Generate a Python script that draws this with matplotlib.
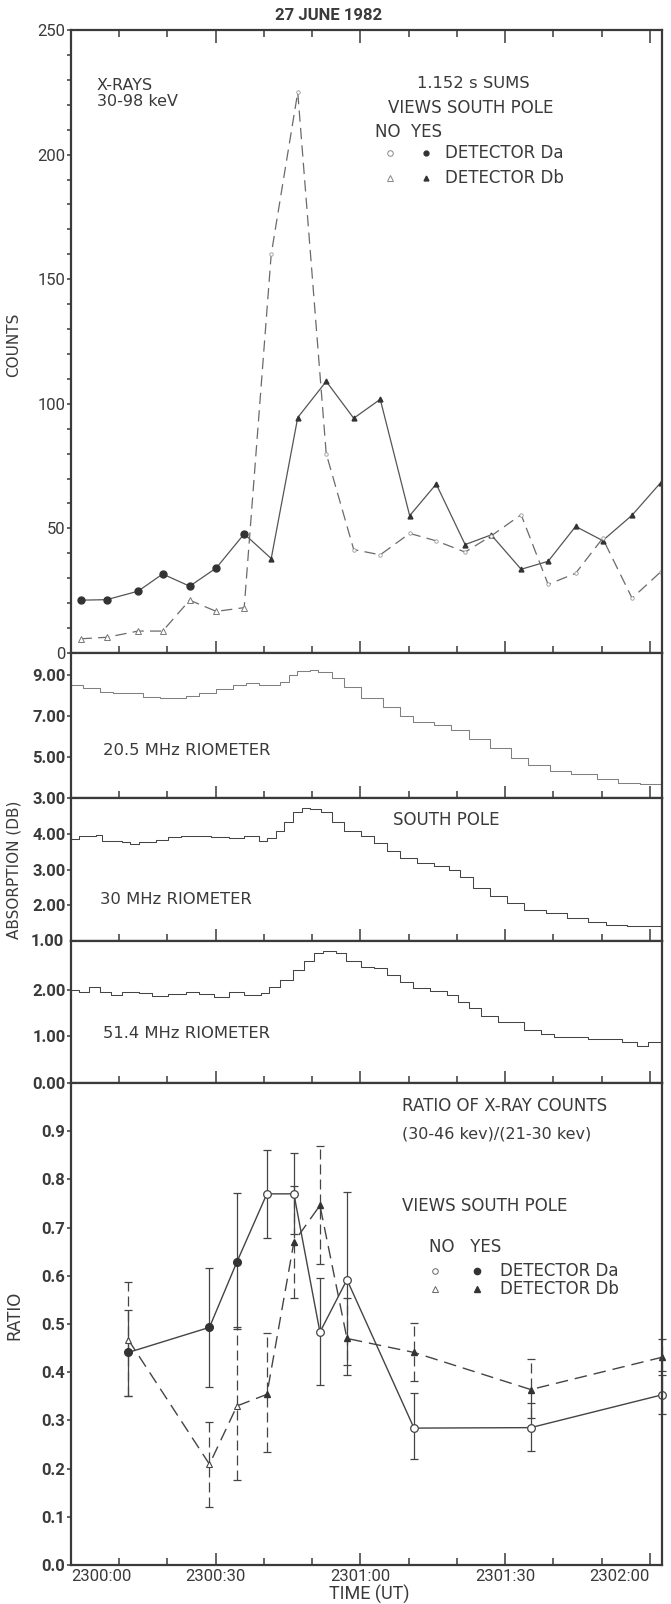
# -*- coding: utf-8 -*-

import numpy as np
import matplotlib.pyplot as plt
from matplotlib.ticker import MultipleLocator, FixedLocator

# x-ray counts, 1.152 s sums (seconds after 2300:00 UT)
count_t = [2.0, 7.4, 13.9, 19.0, 24.6, 30.1, 35.9, 41.5, 47.0, 52.9, 58.6,
           64.1, 70.2, 75.7, 81.7, 87.1, 93.3, 98.9, 104.6, 110.2, 116.3, 122.2]
count_yes = [21.2, 21.4, 24.8, 31.7, 26.8, 34.1, 47.8, 37.9, 94.5, 109.0, 94.2,
             101.8, 55.1, 67.8, 43.5, 47.4, 33.6, 36.8, 50.8, 45.1, 55.3, 68.3]
count_no = [5.7, 6.3, 8.8, 8.8, 21.2, 16.7, 18.2, 160.0, 225.0, 80.0, 41.5,
            39.4, 48.0, 45.0, 40.5, 47.0, 55.5, 27.5, 32.0, 46.0, 22.0, 32.5]
n_da_first = 7   # first points come from Da, then Db views the pole

# riometers
rio20_t = [0.3, 2.5, 6.0, 8.7, 12.3, 14.9, 18.5, 21.1, 23.8, 26.5, 30.0, 33.6,
           36.2, 38.9, 42.4, 43.3, 45.1, 46.9, 49.5, 51.3, 54.0, 56.6, 60.2,
           64.6, 68.2, 70.8, 75.3, 78.8, 82.4, 86.8, 91.3, 94.8, 99.2, 103.7,
           109.0, 113.4, 117.9, 122.3]
rio20_db = [8.51, 8.35, 8.19, 8.10, 8.10, 7.94, 7.86, 7.86, 7.98, 8.10, 8.30,
            8.51, 8.63, 8.51, 8.51, 8.67, 9.00, 9.20, 9.24, 9.16, 8.84, 8.43,
            7.86, 7.46, 7.00, 6.72, 6.56, 6.32, 5.86, 5.42, 4.93, 4.61, 4.33,
            4.15, 3.91, 3.75, 3.68, 3.68]

rio30_t = [0.3, 1.6, 5.1, 6.5, 10.5, 12.3, 14.0, 17.6, 20.2, 22.9, 25.6, 29.1,
           32.7, 35.8, 38.9, 40.7, 42.4, 44.2, 46.0, 47.8, 49.5, 51.8, 54.0,
           56.6, 60.2, 62.8, 65.5, 68.2, 71.7, 75.3, 78.4, 80.6, 83.3, 86.8,
           90.4, 93.9, 98.4, 102.8, 107.2, 110.8, 115.2, 119.7, 122.3]
rio30_db = [3.85, 3.94, 3.97, 3.81, 3.77, 3.72, 3.77, 3.83, 3.91, 3.94, 3.93,
            3.91, 3.87, 3.93, 3.81, 3.88, 4.07, 4.34, 4.62, 4.73, 4.69, 4.62,
            4.32, 4.09, 3.93, 3.74, 3.51, 3.32, 3.18, 3.11, 3.00, 2.79, 2.48,
            2.27, 2.06, 1.86, 1.77, 1.65, 1.53, 1.46, 1.43, 1.41, 1.37]

rio51_t = [0.3, 1.6, 3.8, 6.0, 8.3, 10.5, 14.0, 16.7, 20.2, 23.8, 26.5, 29.6,
           32.7, 35.8, 39.3, 41.1, 43.3, 46.0, 48.2, 50.4, 52.2, 54.9, 57.1,
           60.2, 62.8, 65.5, 68.2, 70.8, 74.4, 77.9, 80.2, 82.4, 85.0, 88.6,
           91.3, 93.9, 97.5, 100.1, 103.7, 107.2, 110.8, 114.3, 117.4, 119.7,
           122.3]
rio51_db = [2.00, 1.96, 2.06, 1.96, 1.89, 1.96, 1.94, 1.87, 1.91, 1.96, 1.91,
            1.84, 1.96, 1.89, 1.94, 2.07, 2.21, 2.43, 2.61, 2.79, 2.84, 2.80,
            2.61, 2.50, 2.46, 2.32, 2.18, 2.05, 1.98, 1.89, 1.75, 1.61, 1.43,
            1.32, 1.30, 1.14, 1.06, 0.99, 0.99, 0.94, 0.94, 0.89, 0.80, 0.89,
            0.87]

# hardness ratio (30-46 keV)/(21-30 keV)
ratio_t = [11.9, 28.7, 34.4, 40.6, 46.2, 51.6, 57.2, 71.1, 95.3, 122.5]
ratio_da = [0.441, 0.493, 0.629, 0.770, 0.770, 0.483, 0.592, 0.284, 0.285, 0.353]
ratio_da_lo = [0.351, 0.370, 0.490, 0.678, 0.686, 0.374, 0.414, 0.219, 0.236, 0.314]
ratio_da_hi = [0.530, 0.616, 0.771, 0.862, 0.855, 0.595, 0.774, 0.356, 0.336, 0.395]
da_yes = [True, True, True, False, False, False, False, False, False, False]
ratio_db = [0.467, 0.209, 0.330, 0.354, 0.670, 0.746, 0.470, 0.441, 0.364, 0.431]
ratio_db_lo = [0.350, 0.121, 0.176, 0.234, 0.554, 0.625, 0.394, 0.382, 0.306, 0.403]
ratio_db_hi = [0.587, 0.296, 0.493, 0.481, 0.786, 0.870, 0.554, 0.503, 0.428, 0.469]
db_yes = [False, False, False, True, True, True, True, True, True, True]

time_ticks = [0, 30, 60, 90, 120]
time_labels = ['2300:00', '2300:30', '2301:00', '2301:30', '2302:00']

ink = '#3a3a3a'
narrow = ['Liberation Sans Narrow', 'Roboto', 'DejaVu Sans']
plain = ['DejaVu Sans']

W, H = 671, 1604
fig = plt.figure(figsize=(W / 100, H / 100), dpi=100)


def box(top, bottom):
    # axes rectangle from pixel rows of the scan
    return [71 / W, 1 - bottom / H, 591 / W, (bottom - top) / H]


def xf(px):
    # pixel column -> axes fraction
    return (px - 71) / 591


ax1 = fig.add_axes(box(30, 653))
ax2 = fig.add_axes(box(653, 798))
ax3 = fig.add_axes(box(798, 941))
ax4 = fig.add_axes(box(941, 1083))
ax5 = fig.add_axes(box(1083, 1565))
axes = [ax1, ax2, ax3, ax4, ax5]

for ax in axes:
    ax.set_xlim(0, 122.5)
    ax.xaxis.set_major_locator(FixedLocator(time_ticks))
    ax.xaxis.set_minor_locator(MultipleLocator(10))
    ax.tick_params(axis='x', which='major', direction='in', length=9, width=1.1,
                   color=ink, top=(ax is ax1), bottom=True, labelbottom=(ax is ax5))
    ax.tick_params(axis='x', which='minor', direction='in', length=5, width=1.1,
                   color=ink, top=(ax is ax1), bottom=True)
    ax.tick_params(axis='y', which='both', direction='out', length=3, width=1.1,
                   color=ink, labelcolor=ink, pad=1)
    for s in ax.spines.values():
        s.set_linewidth(1.6)
        s.set_color(ink)

# --- x-ray counts
t = np.array(count_t)
ax1.plot(t, count_yes, color='#555555', lw=0.9)
ax1.plot(t, count_no, color='#6a6a6a', lw=0.9, ls=(0, (9, 5)))
ax1.plot(t[:n_da_first], count_yes[:n_da_first], 'o', ms=5, color='#333333')
ax1.plot(t[n_da_first:], count_yes[n_da_first:], '^', ms=3.5, color='#333333')
ax1.plot(t[:n_da_first], count_no[:n_da_first], '^', ms=4, mfc='white', mec='#777777', mew=0.7)
ax1.plot(t[n_da_first:], count_no[n_da_first:], 'o', ms=2.5, mfc='white', mec='#999999', mew=0.6)
ax1.set_ylim(0, 250)
ax1.yaxis.set_major_locator(MultipleLocator(50))
ax1.yaxis.set_minor_locator(MultipleLocator(10))
for lb in ax1.get_yticklabels():
    lb.set_family(narrow)
    lb.set_fontsize(12)

y1 = lambda px: 1 - (px - 30) / 623
ax1.text(xf(97), y1(86), 'X-RAYS', transform=ax1.transAxes,
         family=plain, fontsize=11.5, color=ink, va='center')
ax1.text(xf(97), y1(102), '30-98 keV', transform=ax1.transAxes,
         family=plain, fontsize=11.5, color=ink, va='center')
ax1.text(xf(417), y1(83), '1.152 s SUMS', transform=ax1.transAxes,
         family=plain, fontsize=11.8, color=ink, va='center')
ax1.text(xf(388), y1(108), 'VIEWS SOUTH POLE', transform=ax1.transAxes,
         family=plain, fontsize=12, color=ink, va='center')
ax1.text(xf(375), y1(132), 'NO  YES', transform=ax1.transAxes,
         family=plain, fontsize=12, color=ink, va='center')
for row, (mk, name) in enumerate([('o', 'DETECTOR Da'), ('^', 'DETECTOR Db')]):
    yy = y1(153 + 25 * row)
    ax1.plot([xf(390)], [yy], mk, ms=4, mfc='white', mec='#888888', mew=0.7,
             transform=ax1.transAxes)
    ax1.plot([xf(426)], [yy], mk, ms=3.5, color='#333333', transform=ax1.transAxes)
    ax1.text(xf(445), yy, name, transform=ax1.transAxes, family=plain,
             fontsize=12, color=ink, va='center')

# --- riometers
ax2.plot(rio20_t, rio20_db, color='#808080', lw=0.75, drawstyle='steps-post')
ax2.set_ylim(3, 10.07)
ax2.set_yticks([3, 5, 7, 9])
ax2.set_yticklabels(['3.00', '5.00', '7.00', '9.00'])
ax2.text(xf(103), 0.33, '20.5 MHz RIOMETER', transform=ax2.transAxes, family=plain,
         fontsize=11.8, color=ink, va='center')

ax3.plot(rio30_t, rio30_db, color='#444444', lw=0.75, drawstyle='steps-post')
ax3.set_ylim(1, 5.0)
ax3.set_yticks([2, 3, 4])
ax3.set_yticklabels(['2.00', '3.00', '4.00'])
ax3.text(xf(393), 1 - 22 / 143, 'SOUTH POLE', transform=ax3.transAxes, family=plain,
         fontsize=12, color=ink, va='center')
ax3.text(xf(100), 1 - 102 / 143, '30 MHz RIOMETER', transform=ax3.transAxes,
         family=plain, fontsize=11.8, color=ink, va='center')

ax4.plot(rio51_t, rio51_db, color='#444444', lw=0.75, drawstyle='steps-post')
ax4.set_ylim(0, 3.05)
ax4.set_yticks([0, 1, 2])
ax4.set_yticklabels(['0.00', '1.00', '2.00'])
ax4.text(xf(103), 1 - 92 / 142, '51.4 MHz RIOMETER', transform=ax4.transAxes,
         family=plain, fontsize=11.8, color=ink, va='center')

# boundary label between the 30 and 51.4 MHz panels
ax3.text(-0.012, 0, '1.00', transform=ax3.transAxes, ha='right', va='center',
         family=narrow, fontsize=12, fontweight='bold', color=ink)

for ax in [ax2, ax3, ax4]:
    for lb in ax.get_yticklabels():
        lb.set_family(narrow)
        lb.set_fontsize(12)
        lb.set_fontweight('bold')

# --- ratio
rt = np.array(ratio_t)
da = np.array(ratio_da)
db = np.array(ratio_db)
da_err = [da - np.array(ratio_da_lo), np.array(ratio_da_hi) - da]
db_err = [db - np.array(ratio_db_lo), np.array(ratio_db_hi) - db]

ax5.errorbar(rt, db, yerr=db_err, fmt='none', ecolor='#444444', elinewidth=0.9,
             capsize=3, capthick=0.9, clip_on=False)
for lc in ax5.collections:
    lc.set_linestyle((0, (8, 4)))
ax5.errorbar(rt, da, yerr=da_err, fmt='none', ecolor='#444444', elinewidth=0.9,
             capsize=3, capthick=0.9, clip_on=False)
ax5.plot(rt, db, color='#444444', lw=1.0, ls=(0, (9, 5)), clip_on=False)
ax5.plot(rt, da, color='#444444', lw=1.0, clip_on=False)
yes_da = np.array(da_yes)
yes_db = np.array(db_yes)
ax5.plot(rt[yes_da], da[yes_da], 'o', ms=5.5, color='#333333', clip_on=False)
ax5.plot(rt[~yes_da], da[~yes_da], 'o', ms=5.5, mfc='white', mec='#444444', mew=0.9, clip_on=False)
ax5.plot(rt[yes_db], db[yes_db], '^', ms=5, color='#333333', clip_on=False)
ax5.plot(rt[~yes_db], db[~yes_db], '^', ms=4.5, mfc='white', mec='#444444', mew=0.8, clip_on=False)

ax5.set_ylim(0, 1.0)
ax5.set_yticks(np.arange(0, 10) / 10)
ax5.set_yticklabels(['0.0', '0.1', '0.2', '0.3', '0.4', '0.5', '0.6', '0.7', '0.8', '0.9'])
for lb in ax5.get_yticklabels():
    lb.set_family(narrow)
    lb.set_fontsize(12)
    lb.set_fontweight('bold')
ax5.set_xticklabels(time_labels)
for lb in ax5.get_xticklabels():
    lb.set_family(narrow)
    lb.set_fontsize(12)
    lb.set_color(ink)
ax5.get_xticklabels()[0].set_horizontalalignment('left')
ax5.get_xticklabels()[-1].set_horizontalalignment('right')
ax5.tick_params(axis='x', pad=3)

y5 = lambda px: 1 - (px - 1083) / 482
ax5.text(xf(402), y5(1106), 'RATIO OF X-RAY COUNTS', transform=ax5.transAxes,
         family=plain, fontsize=12, color=ink, va='center')
ax5.text(xf(402), y5(1134), '(30-46 kev)/(21-30 kev)', transform=ax5.transAxes,
         family=plain, fontsize=11.5, color=ink, va='center')
ax5.text(xf(402), y5(1206), 'VIEWS SOUTH POLE', transform=ax5.transAxes,
         family=plain, fontsize=12, color=ink, va='center')
ax5.text(xf(429), y5(1247), 'NO   YES', transform=ax5.transAxes,
         family=plain, fontsize=12, color=ink, va='center')
for row, (mk, name) in enumerate([('o', 'DETECTOR Da'), ('^', 'DETECTOR Db')]):
    yy = y5(1271 + 18 * row)
    ax5.plot([xf(435)], [yy], mk, ms=4, mfc='white', mec='#666666', mew=0.7,
             transform=ax5.transAxes)
    ax5.plot([xf(477)], [yy], mk, ms=4.5, color='#333333', transform=ax5.transAxes)
    ax5.text(xf(500), yy, name, transform=ax5.transAxes, family=plain,
             fontsize=12, color=ink, va='center')

# titles and axis names
fig.text(329 / W, 1 - 16 / H, '27 JUNE 1982', ha='center', va='center',
         family=narrow, fontsize=12, fontweight='bold', color=ink)
fig.text(14 / W, 1 - 345 / H, 'COUNTS', rotation=90, ha='center', va='center',
         family=plain, fontsize=11, color=ink)
fig.text(14 / W, 1 - 870 / H, 'ABSORPTION (DB)', rotation=90, ha='center', va='center',
         family=plain, fontsize=11, color=ink)
fig.text(14 / W, 1 - 1315 / H, 'RATIO', rotation=90, ha='center', va='center',
         family=plain, fontsize=12, color=ink)
fig.text(369 / W, 1 - 1594 / H, 'TIME (UT)', ha='center', va='center',
         family=narrow, fontsize=13, color=ink)

fig.savefig('out.png', dpi=100)
